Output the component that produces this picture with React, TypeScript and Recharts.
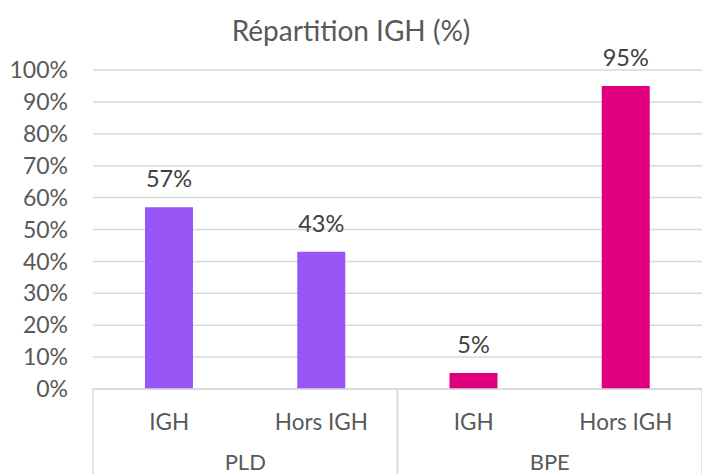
import { BarChart, Bar, XAxis, YAxis, CartesianGrid, Cell, LabelList } from "recharts";

const categories = ["IGH", "Hors IGH", "IGH", "Hors IGH"];
const groups = ["PLD", "PLD", "BPE", "BPE"];
const values = [57, 43, 5, 95];
const yTicks = [0, 10, 20, 30, 40, 50, 60, 70, 80, 90, 100];

const groupColors: Record<string, string> = { PLD: "#9955f5", BPE: "#e0007f" };

const data = categories.map((c, i) => ({ idx: i, category: c, group: groups[i], value: values[i] }));

const FONT = "Lato, 'Open Sans', sans-serif";
const AXIS_GREY = "#d9d9d9";

function CategoryTick(props: any) {
    const { x, y, payload } = props;
    const i = payload.index ?? props.index;
    const half = payload.offset ?? 76;
    const group = groups[i];
    const isFirst = i === 0 || groups[i - 1] !== group;
    const isLast = i === groups.length - 1 || groups[i + 1] !== group;
    const count = groups.filter((g) => g === group).length;
    const left = x - half;
    return (
        <g>
            <text x={x} y={y + 32} textAnchor="middle" dominantBaseline="central" fill="#595959" fontSize={22.5} fontFamily={FONT}>
                {categories[i]}
            </text>
            {isFirst && <line x1={left} x2={left} y1={y} y2={y + 90} stroke={AXIS_GREY} strokeWidth={1.5} />}
            {isFirst && (
                <text x={left + count * half} y={y + 72} textAnchor="middle" dominantBaseline="central" fill="#595959" fontSize={22} fontFamily={FONT}>
                    {group}
                </text>
            )}
            {isLast && <line x1={x + half} x2={x + half} y1={y} y2={y + 90} stroke={AXIS_GREY} strokeWidth={1.5} />}
        </g>
    );
}

export default function App() {
    return (
        <div style={{ position: "absolute", left: 0, top: 0, width: 702, height: 474, background: "#fff" }}>
            <div
                style={{
                    position: "absolute",
                    top: 13,
                    left: 0,
                    width: 702,
                    textAlign: "center",
                    fontFamily: FONT,
                    fontSize: 28,
                    lineHeight: "34px",
                    color: "#595959",
                }}
            >
                Répartition IGH (%)
            </div>
            <BarChart width={702} height={474} data={data} margin={{ top: 70, right: 0, bottom: 0, left: 0 }}>
                <CartesianGrid vertical={false} stroke={AXIS_GREY} strokeWidth={1.5} />
                <XAxis
                    dataKey="idx"
                    type="category"
                    height={85}
                    tickLine={false}
                    tickSize={0}
                    tickMargin={0}
                    axisLine={{ stroke: AXIS_GREY, strokeWidth: 1.5 }}
                    tick={<CategoryTick />}
                    interval={0}
                />
                <YAxis
                    width={93}
                    domain={[0, 100]}
                    ticks={yTicks}
                    interval={0}
                    axisLine={false}
                    tickLine={false}
                    tickSize={0}
                    tickMargin={25}
                    tickFormatter={(v: number) => `${v}%`}
                    tick={{ fill: "#595959", fontSize: 23, fontFamily: FONT }}
                />
                <Bar dataKey="value" barSize={48} isAnimationActive={false}>
                    {data.map((d) => (
                        <Cell key={d.idx} fill={groupColors[d.group]} />
                    ))}
                    <LabelList
                        dataKey="value"
                        position="top"
                        offset={20}
                        formatter={(v: number) => `${v}%`}
                        fill="#404040"
                        fontSize={23.5}
                        fontFamily={FONT}
                    />
                </Bar>
            </BarChart>
        </div>
    );
}
